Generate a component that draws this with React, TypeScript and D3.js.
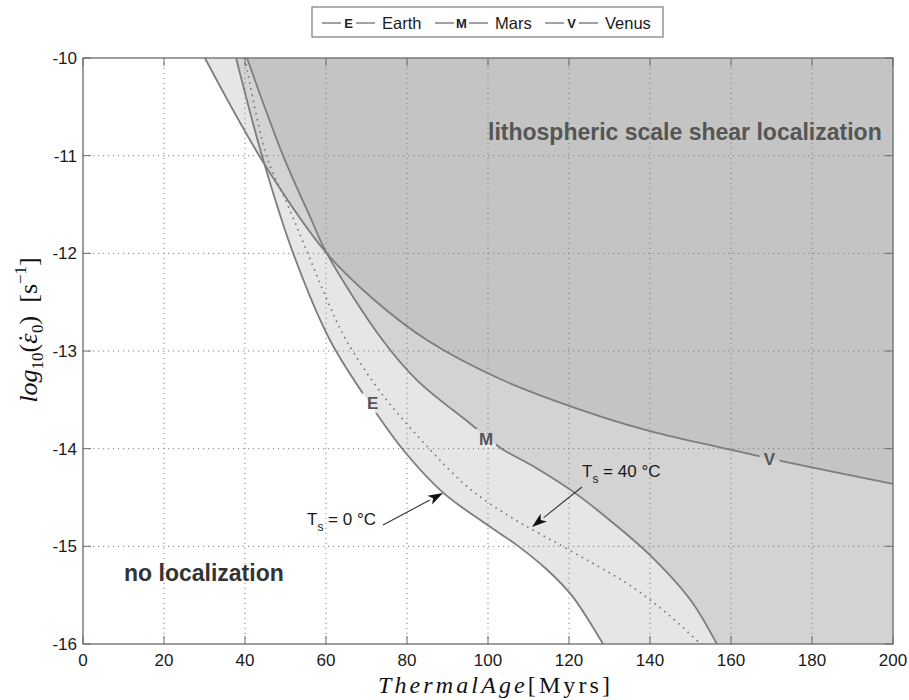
import React from 'react';
import * as d3 from 'd3';

// ---- data ----
const xTicks = [0, 20, 40, 60, 80, 100, 120, 140, 160, 180, 200];
const yTicks = [-16, -15, -14, -13, -12, -11, -10];

// Earth, Ts = 0 °C (solid)
const earthX = [37.8, 44.2, 51.9, 61, 71.5, 80, 88.9, 99.8, 107.2, 114.6, 121, 128.4];
const earthY = [-10, -11.0, -12.0, -12.89, -13.58, -14.06, -14.45, -14.78, -14.99, -15.24, -15.52, -16];

// Earth, Ts = 40 °C (dotted)
const earth40X = [40, 45.3, 50.5, 55.5, 60.5, 65, 74, 85.7, 93.8, 100, 108, 118, 127, 135.8, 144, 152.5];
const earth40Y = [-10, -11.0, -11.5, -12.0, -12.5, -12.89, -13.45, -14.01, -14.35, -14.55, -14.76, -14.99, -15.2, -15.42, -15.68, -16];

// Mars
const marsX = [40.5, 49.4, 56, 60.2, 74, 82.5, 95.5, 103, 112, 121, 130, 140, 150, 156.5];
const marsY = [-10, -11.0, -11.62, -12.0, -12.89, -13.3, -13.74, -13.99, -14.2, -14.44, -14.73, -15.09, -15.55, -16];

// Venus
const venusX = [30.1, 45, 60.2, 72, 85, 103.7, 127.7, 140, 159.8, 172.8, 200];
const venusY = [-10, -11.1, -12.0, -12.48, -12.89, -13.3, -13.67, -13.82, -14.01, -14.13, -14.36];

// curve labels (data positions)
const curveLabels = [
  { text: 'E', x: 71.5, y: -13.53 },
  { text: 'M', x: 99.5, y: -13.9 },
  { text: 'V', x: 169.5, y: -14.1 },
];

const legendItems = [
  { mark: 'E', name: 'Earth' },
  { mark: 'M', name: 'Mars' },
  { mark: 'V', name: 'Venus' },
];

const zip = (xs: number[], ys: number[]) => xs.map((v, i) => [v, ys[i]] as [number, number]);

export default function App() {
  const W = 909, H = 700;
  const x = d3.scaleLinear().domain([0, 200]).range([83, 893]);
  const y = d3.scaleLinear().domain([-16, -10]).range([644, 58]);
  const line = d3.line<[number, number]>().x(d => x(d[0])).y(d => y(d[1])).curve(d3.curveCatmullRom.alpha(0.5));

  const earth = zip(earthX, earthY);
  const earth40 = zip(earth40X, earth40Y);
  const mars = zip(marsX, marsY);
  const venus = zip(venusX, venusY);

  const fillPath = (pts: [number, number][]) => {
    const last = pts[pts.length - 1];
    return (line(pts) as string) + `L${x(200)},${y(last[1])}L${x(200)},${y(-10)}Z`;
  };

  const font = "'Liberation Sans', Arial, Helvetica, sans-serif";
  const serif = "'Liberation Serif', 'Times New Roman', serif";
  const x0 = x(0), x1 = x(200), y0 = y(-16), y1 = y(-10);
  const tickLen = 8;

  const legendX = [322, 435, 545];

  return (
    <svg width={W} height={H} style={{ position: 'absolute', left: 0, top: 0, background: '#fff' }}>
      <defs>
        <clipPath id="plot">
          <rect x={x0} y={y1} width={x1 - x0} height={y0 - y1} />
        </clipPath>
        <mask id="gaps">
          <rect x={0} y={0} width={W} height={H} fill="white" />
          {curveLabels.map(l => (
            <rect key={l.text} x={x(l.x) - 10} y={y(l.y) - 10} width={20} height={20} fill="black" />
          ))}
        </mask>
      </defs>

      {/* filled regions */}
      <g clipPath="url(#plot)">
        {[earth, mars, venus].map((p, i) => (
          <path key={i} d={fillPath(p)} fill="#999" fillOpacity={0.245} stroke="none" />
        ))}
      </g>

      {/* grid */}
      <g stroke="#808080" strokeWidth={1} strokeDasharray="1.2,3.8">
        {xTicks.slice(1, -1).map(t => (
          <line key={'gx' + t} x1={x(t)} x2={x(t)} y1={y0} y2={y1} />
        ))}
        {yTicks.slice(1, -1).map(t => (
          <line key={'gy' + t} x1={x0} x2={x1} y1={y(t)} y2={y(t)} />
        ))}
      </g>

      {/* curves */}
      <g clipPath="url(#plot)" fill="none">
        <g mask="url(#gaps)" stroke="#7d7d7d" strokeWidth={1.8}>
          <path d={line(earth) as string} />
          <path d={line(mars) as string} />
          <path d={line(venus) as string} />
        </g>
        <path d={line(earth40) as string} stroke="#7a7a7a" strokeWidth={1.7} strokeDasharray="1.6,4.6" />
      </g>

      {/* curve labels */}
      {curveLabels.map(l => (
        <text key={'cl' + l.text} x={x(l.x)} y={y(l.y)} dy="0.36em" textAnchor="middle"
          fontFamily={font} fontWeight="bold" fontSize={17} fill="#555">{l.text}</text>
      ))}

      {/* axes box and ticks */}
      <rect x={x0} y={y1} width={x1 - x0} height={y0 - y1} fill="none" stroke="#6a6a6a" strokeWidth={1.3} />
      <g stroke="#6a6a6a" strokeWidth={1}>
        {xTicks.map(t => (
          <g key={'tx' + t}>
            <line x1={x(t)} x2={x(t)} y1={y0} y2={y0 - tickLen} />
            <line x1={x(t)} x2={x(t)} y1={y1} y2={y1 + tickLen} />
          </g>
        ))}
        {yTicks.map(t => (
          <g key={'ty' + t}>
            <line x1={x0} x2={x0 + tickLen} y1={y(t)} y2={y(t)} />
            <line x1={x1} x2={x1 - tickLen} y1={y(t)} y2={y(t)} />
          </g>
        ))}
      </g>

      {/* tick labels */}
      <g fontFamily={font} fontSize={17} fill="#1a1a1a">
        {xTicks.map(t => (
          <text key={'lx' + t} x={x(t)} y={666} textAnchor="middle">{t}</text>
        ))}
        {yTicks.map(t => (
          <text key={'ly' + t} x={77} y={y(t)} dy="0.36em" textAnchor="end">{t}</text>
        ))}
      </g>

      {/* axis titles */}
      <text x={494} y={693} textAnchor="middle" fontFamily={serif} fontSize={24} fill="#111"
        textLength={232} lengthAdjust="spacing">
        <tspan fontStyle="italic">ThermalAge</tspan><tspan>[Myrs]</tspan>
      </text>
      <text transform="translate(37,330) rotate(-90)" textAnchor="middle" fontFamily={serif} fontSize={26} fill="#111">
        <tspan fontStyle="italic">log</tspan>
        <tspan fontSize={17} dy={6}>10</tspan>
        <tspan dy={-6}>(</tspan>
        <tspan fontStyle="italic">{'\u03B5'}</tspan>
        <tspan dx={-9} dy={-1}>{'\u02D9'}</tspan>
        <tspan fontSize={17} dx={1} dy={7}>0</tspan>
        <tspan dy={-6}>{')\u00A0\u00A0[s'}</tspan>
        <tspan fontSize={17} dy={-11}>{'\u22121'}</tspan>
        <tspan dy={11}>]</tspan>
      </text>

      {/* region annotations */}
      <text x={488} y={140} fontFamily={font} fontWeight="bold" fontSize={23} fill="#555">
        lithospheric scale shear localization
      </text>
      <text x={124} y={581} fontFamily={font} fontWeight="bold" fontSize={23} fill="#333">
        no localization
      </text>

      {/* Ts annotations */}
      <g fontFamily={font} fontSize={17} fill="#1a1a1a">
        <text x={307} y={525}>
          <tspan>T</tspan><tspan fontSize={12} dy={6}>s</tspan><tspan dy={-6}>{'\u00A0= 0 \u00B0C'}</tspan>
        </text>
        <text x={582} y={477}>
          <tspan>T</tspan><tspan fontSize={12} dy={6}>s</tspan><tspan dy={-6}>{'\u00A0= 40 \u00B0C'}</tspan>
        </text>
      </g>
      {[
        { from: [383, 525], to: [443, 493] },
        { from: [582, 487], to: [532, 527] },
      ].map((a, i) => {
        const [fx, fy] = a.from, [tx, ty] = a.to;
        const ang = Math.atan2(ty - fy, tx - fx);
        const L = 15, Wd = 5;
        const bx = tx - L * Math.cos(ang), by = ty - L * Math.sin(ang);
        const px = -Math.sin(ang) * Wd, py = Math.cos(ang) * Wd;
        return (
          <g key={'ar' + i}>
            <line x1={fx} y1={fy} x2={bx} y2={by} stroke="#333" strokeWidth={1.1} />
            <polygon points={`${tx},${ty} ${bx + px},${by + py} ${bx + L * 0.25 * Math.cos(ang)},${by + L * 0.25 * Math.sin(ang)} ${bx - px},${by - py}`} fill="#111" />
          </g>
        );
      })}

      {/* legend */}
      <rect x={312} y={7} width={351} height={30} fill="#fff" stroke="#7a7a7a" strokeWidth={1.2} />
      {legendItems.map((it, i) => {
        const lx = legendX[i];
        return (
          <g key={'lg' + it.mark}>
            <line x1={lx} x2={lx + 19} y1={23} y2={23} stroke="#444" strokeWidth={1} />
            <line x1={lx + 34} x2={lx + 53} y1={23} y2={23} stroke="#444" strokeWidth={1} />
            <text x={lx + 26.5} y={27.5} textAnchor="middle" fontFamily={font} fontWeight="bold" fontSize={13} fill="#222">{it.mark}</text>
            <text x={lx + 60} y={29} fontFamily={font} fontSize={16.5} fill="#1a1a1a">{it.name}</text>
          </g>
        );
      })}
    </svg>
  );
}
